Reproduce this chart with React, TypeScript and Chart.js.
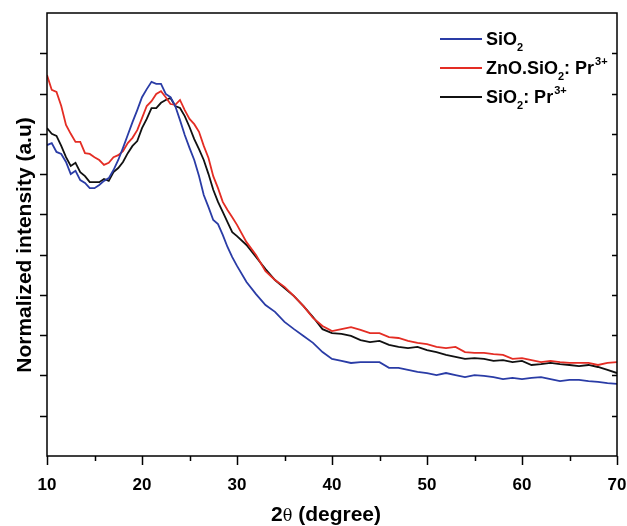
import React, { useEffect, useRef } from "react";
import { Chart, registerables } from "chart.js";

Chart.register(...registerables);

// 2θ positions (degree)
const angles = [
  10, 10.5, 11, 11.5, 12, 12.5, 13, 13.5, 14, 14.5,
  15, 15.5, 16, 16.5, 17, 17.5, 18, 18.5, 19, 19.5,
  20, 20.5, 21, 21.5, 22, 22.5, 23, 23.5, 24, 24.5,
  25, 25.5, 26, 26.5, 27, 27.5, 28, 28.5, 29, 29.5,
  30, 31, 32, 33, 34, 35, 36, 37, 38, 39,
  40, 41, 42, 43, 44, 45, 46, 47, 48, 49,
  50, 51, 52, 53, 54, 55, 56, 57, 58, 59,
  60, 61, 62, 63, 64, 65, 66, 67, 68, 69, 70,
];

const sio2 = [
  0.772, 0.777, 0.755, 0.75, 0.73, 0.7, 0.708, 0.685, 0.678, 0.665,
  0.665, 0.673, 0.683, 0.69, 0.71, 0.735, 0.765, 0.797, 0.829, 0.859,
  0.891, 0.911, 0.929, 0.924, 0.924, 0.899, 0.891, 0.869, 0.834, 0.797,
  0.765, 0.735, 0.695, 0.648, 0.618, 0.586, 0.576, 0.549, 0.519, 0.494,
  0.472, 0.432, 0.402, 0.375, 0.358, 0.333, 0.315, 0.298, 0.281, 0.258,
  0.241, 0.236, 0.231, 0.233, 0.233, 0.233, 0.219, 0.219, 0.214, 0.209,
  0.206, 0.201, 0.206, 0.201, 0.196, 0.201, 0.199, 0.196, 0.191, 0.194,
  0.191, 0.194, 0.196, 0.191, 0.186, 0.189, 0.189, 0.186, 0.184, 0.181, 0.179,
];

const znoSio2Pr = [
  0.946, 0.909, 0.904, 0.869, 0.822, 0.8, 0.78, 0.78, 0.752, 0.75,
  0.742, 0.735, 0.723, 0.728, 0.742, 0.747, 0.757, 0.777, 0.79, 0.809,
  0.839, 0.869, 0.881, 0.899, 0.906, 0.891, 0.874, 0.872, 0.884, 0.859,
  0.837, 0.824, 0.805, 0.77, 0.74, 0.695, 0.665, 0.631, 0.611, 0.593,
  0.574, 0.531, 0.499, 0.459, 0.437, 0.42, 0.397, 0.372, 0.343, 0.323,
  0.31, 0.315, 0.32, 0.313, 0.305, 0.305, 0.295, 0.293, 0.286, 0.281,
  0.278, 0.271, 0.268, 0.271, 0.258, 0.256, 0.256, 0.253, 0.251, 0.241,
  0.243, 0.238, 0.233, 0.236, 0.233, 0.231, 0.231, 0.231, 0.226, 0.231, 0.233,
];

const sio2Pr = [
  0.814, 0.8, 0.795, 0.77, 0.742, 0.72, 0.728, 0.705, 0.695, 0.68,
  0.68, 0.68, 0.688, 0.683, 0.705, 0.715, 0.73, 0.752, 0.77, 0.782,
  0.814, 0.837, 0.864, 0.864, 0.877, 0.884, 0.889, 0.869, 0.864, 0.844,
  0.817, 0.787, 0.762, 0.735, 0.7, 0.661, 0.631, 0.606, 0.581, 0.556,
  0.546, 0.524, 0.494, 0.464, 0.437, 0.417, 0.397, 0.372, 0.345, 0.315,
  0.305, 0.303, 0.298, 0.288, 0.283, 0.286, 0.276, 0.271, 0.268, 0.271,
  0.263, 0.258, 0.251, 0.246, 0.241, 0.243, 0.241, 0.236, 0.238, 0.233,
  0.236, 0.226, 0.228, 0.231, 0.228, 0.226, 0.223, 0.226, 0.221, 0.214, 0.206,
];

const xTitle = ["2", "θ", " (degree)"];
const yTitle = "Normalized intensity (a.u)";

type Part = { t: string; k: "n" | "sub" | "sup" };
const legendItems: { color: string; parts: Part[] }[] = [
  { color: "#2a3ca6", parts: [{ t: "SiO", k: "n" }, { t: "2", k: "sub" }] },
  {
    color: "#e42d24",
    parts: [
      { t: "ZnO.SiO", k: "n" },
      { t: "2", k: "sub" },
      { t: ": Pr", k: "n" },
      { t: "3+", k: "sup" },
    ],
  },
  {
    color: "#111111",
    parts: [
      { t: "SiO", k: "n" },
      { t: "2", k: "sub" },
      { t: ": Pr", k: "n" },
      { t: "3+", k: "sup" },
    ],
  },
];

const FONT = '"Liberation Sans", Arial, Helvetica, sans-serif';

const framePlugin = {
  id: "framePlugin",
  afterDraw(chart: any) {
    const { ctx, chartArea: a, scales } = chart;
    const xs = scales.x;
    const ys = scales.y;
    ctx.save();
    ctx.strokeStyle = "#000";
    ctx.lineWidth = 1.5;
    ctx.strokeRect(a.left, a.top, a.right - a.left, a.bottom - a.top);
    ctx.beginPath();
    xs.ticks.forEach((t: any) => {
      const px = Math.round(xs.getPixelForValue(t.value)) + 0.5;
      const major = Math.abs(t.value % 10) < 1e-6;
      ctx.moveTo(px, a.bottom);
      ctx.lineTo(px, a.bottom + (major ? 9 : 5));
    });
    ys.ticks.forEach((t: any) => {
      const py = Math.round(ys.getPixelForValue(t.value)) + 0.5;
      if (py <= a.top + 2 || py >= a.bottom - 2) return;
      ctx.moveTo(a.left - 7, py);
      ctx.lineTo(a.left, py);
      ctx.moveTo(a.right - 5, py);
      ctx.lineTo(a.right, py);
    });
    ctx.stroke();

    // y title
    ctx.fillStyle = "#000";
    ctx.save();
    ctx.translate(31, 245);
    ctx.rotate(-Math.PI / 2);
    ctx.font = `bold 21px ${FONT}`;
    ctx.textAlign = "center";
    ctx.textBaseline = "alphabetic";
    ctx.fillText(yTitle, 0, 0);
    ctx.restore();

    // x title
    const fonts = [`bold 21px ${FONT}`, `16px "DejaVu Serif", serif`, `bold 21px ${FONT}`];
    let total = 0;
    const widths = xTitle.map((s, i) => {
      ctx.font = fonts[i];
      const w = ctx.measureText(s).width;
      total += w;
      return w;
    });
    let cx = 326 - total / 2;
    ctx.textAlign = "left";
    xTitle.forEach((s, i) => {
      ctx.font = fonts[i];
      ctx.fillText(s, cx, 521);
      cx += widths[i];
    });

    // legend
    const rowY = [39, 68, 97];
    legendItems.forEach((item, i) => {
      const y = rowY[i];
      ctx.strokeStyle = item.color;
      ctx.lineWidth = 2;
      ctx.beginPath();
      ctx.moveTo(440, y);
      ctx.lineTo(482, y);
      ctx.stroke();
      let x = 486;
      const base = y + 6;
      item.parts.forEach((p) => {
        if (p.k === "n") {
          ctx.font = `bold 18px ${FONT}`;
          ctx.fillText(p.t, x, base);
        } else if (p.k === "sub") {
          ctx.font = `bold 11px ${FONT}`;
          ctx.fillText(p.t, x, base + 6);
        } else {
          ctx.font = `bold 11px ${FONT}`;
          ctx.fillText(p.t, x + 1, base - 9);
        }
        x += ctx.measureText(p.t).width + (p.k === "sup" ? 1 : 0);
      });
    });
    ctx.restore();
  },
};

export default function App() {
  const ref = useRef<HTMLCanvasElement | null>(null);
  useEffect(() => {
    document.body.style.margin = "0";
    const canvas = ref.current;
    if (!canvas) return;
    const mk = (vals: number[]) => angles.map((x, i) => ({ x, y: vals[i] }));
    const chart = new Chart(canvas, {
      type: "line",
      data: {
        datasets: [
          { label: "SiO2", data: mk(sio2), borderColor: "#2a3ca6", borderWidth: 1.8, pointRadius: 0, tension: 0 },
          { label: "ZnO.SiO2: Pr3+", data: mk(znoSio2Pr), borderColor: "#e42d24", borderWidth: 1.8, pointRadius: 0, tension: 0 },
          { label: "SiO2: Pr3+", data: mk(sio2Pr), borderColor: "#111111", borderWidth: 1.8, pointRadius: 0, tension: 0 },
        ],
      },
      options: {
        animation: false,
        responsive: false,
        devicePixelRatio: 1,
        layout: { padding: { top: 13, right: 10, left: 0, bottom: 0 } },
        plugins: { legend: { display: false }, tooltip: { enabled: false }, title: { display: false } },
        scales: {
          x: {
            type: "linear",
            min: 10,
            max: 70,
            grid: { display: false, drawTicks: false },
            border: { display: false },
            ticks: {
              stepSize: 5,
              autoSkip: false,
              maxRotation: 0,
              padding: 19,
              color: "#000",
              font: { family: FONT, size: 17, weight: "bold" },
              callback: (v: any) => (Number(v) % 10 === 0 ? String(v) : ""),
            },
            afterFit: (s: any) => {
              s.height = 70;
              s.paddingLeft = 0;
              s.paddingRight = 0;
            },
          },
          y: {
            min: 0,
            max: 1.1,
            grid: { display: false, drawTicks: false },
            border: { display: false },
            ticks: { display: false, stepSize: 0.1 },
            afterFit: (s: any) => {
              s.width = 47;
              s.paddingTop = 0;
              s.paddingBottom = 0;
            },
          },
        },
      },
      plugins: [framePlugin],
    } as any);
    return () => chart.destroy();
  }, []);
  return (
    <div style={{ width: 627, height: 526, background: "#fff" }}>
      <canvas ref={ref} width={627} height={526} style={{ display: "block" }} />
    </div>
  );
}
